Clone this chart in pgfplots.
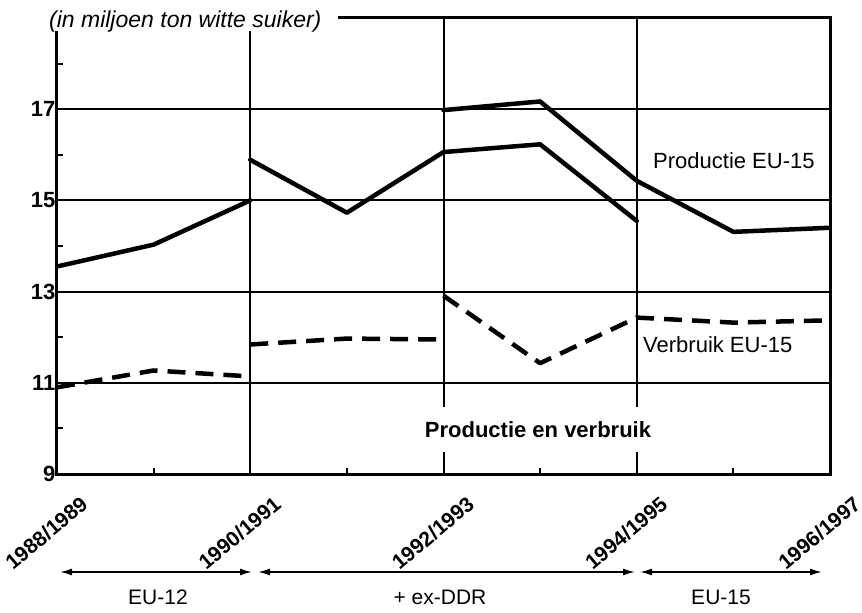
\documentclass[border=0pt]{standalone}
\usepackage{fontspec}
\setmainfont{Liberation Sans}
\usepackage{pgfplots}
\pgfplotsset{compat=1.18}
\usetikzlibrary{arrows.meta}
\begin{document}
\begin{tikzpicture}[x=1pt,y=1pt]
\useasboundingbox (-57,-139) rectangle (805,474);
\begin{axis}[at={(0,0)}, anchor=south west, scale only axis,
  width=773pt, height=456pt,
  xmin=0, xmax=8, ymin=9, ymax=19,
  xtick={0,2,4,6,8},
  xticklabels={1988/1989,1990/1991,1992/1993,1994/1995,1996/1997},
  minor xtick={1,3,5,7},
  ytick={9,11,13,15,17}, minor ytick={10,12,14,16,18},
  xmajorgrids, ymajorgrids,
  grid style={black, line width=2pt},
  axis line style={line width=3pt},
  tick style={black, line width=2pt},
  tick align=inside, major tick length=6pt, minor tick length=6pt,
  xtick pos=bottom, ytick pos=left,
  /pgf/number format/assume math mode=true,
  yticklabel style={font=\fontsize{22}{26}\selectfont\bfseries, inner sep=1.5pt},
  xticklabel style={font=\fontsize{21}{25}\selectfont\bfseries, xshift=30pt, yshift=-25pt, rotate=40, anchor=east},
  every axis plot/.append style={line width=4.5pt, line join=round, line cap=round},
]
% Productie
\addplot[black] coordinates {(0,13.55) (1,14.03) (2,15.0)};
\addplot[black] coordinates {(2,15.89) (3,14.73) (4,16.06) (5,16.23) (6,14.55)};
\addplot[black] coordinates {(4,16.98) (5,17.17) (6,15.43) (7,14.31) (8,14.40)};
% Verbruik
\addplot[black, line cap=butt, dash pattern=on 18pt off 10pt] coordinates {(0,10.9) (1,11.27) (2,11.14)};
\addplot[black, line cap=butt, dash pattern=on 18pt off 10pt] coordinates {(2,11.84) (3,11.97) (4,11.95)};
\addplot[black, line cap=butt, dash pattern=on 18pt off 10pt] coordinates {(4,12.91) (5,11.43) (6,12.43) (7,12.32) (8,12.37)};
\end{axis}
% title over the top-left of the frame
\fill[white] (-17,443) rectangle (281,480);
\node[anchor=west, font=\fontsize{23}{27}\selectfont\itshape, inner sep=0] at (-8,452) {(in miljoen ton witte suiker)};
% inner labels
\node[fill=white, font=\fontsize{22}{26}\selectfont\bfseries, minimum height=45pt, inner xsep=4pt] at (481,44) {Productie en verbruik};
\node[anchor=west, font=\fontsize{22}{26}\selectfont, inner sep=0] at (596,313.5) {Productie EU-15};
\node[anchor=west, font=\fontsize{22}{26}\selectfont, inner sep=0] at (586,129) {Verbruik EU-15};
% period arrows
\draw[line width=1.5pt, {Latex[length=12pt,width=7pt]}-{Latex[length=12pt,width=7pt]}] (3,-98) -- (195,-98);
\draw[line width=1.5pt, {Latex[length=12pt,width=7pt]}-{Latex[length=12pt,width=7pt]}] (201,-98) -- (578,-98);
\draw[line width=1.5pt, {Latex[length=12pt,width=7pt]}-{Latex[length=12pt,width=7pt]}] (583,-98) -- (765,-98);
\node[font=\fontsize{21}{25}\selectfont] at (101,-123) {EU-12};
\node[font=\fontsize{21}{25}\selectfont] at (383,-123) {+ ex-DDR};
\node[font=\fontsize{21}{25}\selectfont] at (664,-123) {EU-15};
\end{tikzpicture}
\end{document}
